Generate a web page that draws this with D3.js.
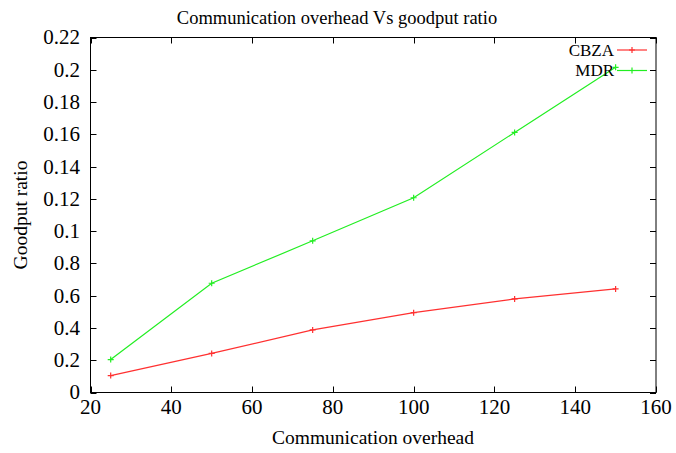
<!DOCTYPE html>
<html>
<head>
<meta charset="utf-8">
<script src="https://cdn.jsdelivr.net/npm/d3@7"></script>
<style>
  html, body { margin: 0; padding: 0; background: #fff; }
  svg { display: block; }
  svg text { font-family: "Liberation Serif", "Times New Roman", "DejaVu Serif", serif; }
</style>
</head>
<body>
<svg id="chart" width="676" height="453"></svg>
<script>
// Communication overhead (x) and goodput ratio per protocol
const overhead = [25, 50, 75, 100, 125, 150];
const cbza = [0.0105, 0.0242, 0.0388, 0.0495, 0.0580, 0.0642];
const mdr  = [0.0204, 0.0677, 0.0940, 0.1207, 0.1612, 0.2015];

const xTicks = [20, 40, 60, 80, 100, 120, 140, 160];
const yTicks = [0, 0.02, 0.04, 0.06, 0.08, 0.10, 0.12, 0.14, 0.16, 0.18, 0.20, 0.22];
const yTickLabels = ["0", "0.2", "0.4", "0.6", "0.8", "0.1", "0.12", "0.14", "0.16", "0.18", "0.2", "0.22"];

const seriesList = [
  { name: "CBZA", values: cbza, color: "#ff3030" },
  { name: "MDR",  values: mdr,  color: "#22ee22" }
];

const FONT = "'Liberation Serif', 'Times New Roman', 'DejaVu Serif', serif";
const svg = d3.select("#chart").attr("font-family", FONT);
const m = { left: 90.5, right: 656, top: 37.5, bottom: 392.5 };

const x = d3.scaleLinear().domain([20, 160]).range([m.left, m.right]);
const y = d3.scaleLinear().domain([0, 0.22]).range([m.bottom, m.top]);

// Title
svg.append("text")
  .attr("x", 337).attr("y", 24)
  .attr("text-anchor", "middle")
  .attr("font-family", FONT)
  .attr("font-size", 18.5)
  .text("Communication overhead Vs goodput ratio");

// Ticks (inside, mirrored on all four sides)
const tickLen = 6;
const g = svg.append("g").attr("stroke", "#000").attr("stroke-width", 1);
xTicks.forEach(t => {
  const px = Math.round(x(t)) + 0.5;
  g.append("line").attr("x1", px).attr("x2", px).attr("y1", m.bottom).attr("y2", m.bottom - tickLen);
  g.append("line").attr("x1", px).attr("x2", px).attr("y1", m.top).attr("y2", m.top + tickLen);
});
yTicks.forEach(t => {
  const py = Math.round(y(t)) + 0.5;
  g.append("line").attr("x1", m.left).attr("x2", m.left + tickLen).attr("y1", py).attr("y2", py);
  g.append("line").attr("x1", m.right).attr("x2", m.right - tickLen).attr("y1", py).attr("y2", py);
});

// Frame
svg.append("rect")
  .attr("x", m.left).attr("y", m.top)
  .attr("width", m.right - m.left).attr("height", m.bottom - m.top)
  .attr("fill", "none").attr("stroke", "#000").attr("stroke-width", 1);

// Tick labels
svg.append("g").selectAll("text").data(xTicks).join("text")
  .attr("x", d => x(d)).attr("y", 414)
  .attr("text-anchor", "middle")
  .attr("font-family", FONT)
  .attr("font-size", 21)
  .text(d => d);

svg.append("g").selectAll("text").data(yTicks).join("text")
  .attr("x", 80).attr("y", d => y(d))
  .attr("dy", "0.33em")
  .attr("text-anchor", "end")
  .attr("font-family", FONT)
  .attr("font-size", 21)
  .text((d, i) => yTickLabels[i]);

// Axis titles
svg.append("text")
  .attr("x", 373).attr("y", 444)
  .attr("text-anchor", "middle")
  .attr("font-family", FONT)
  .attr("font-size", 19.5)
  .text("Communication overhead");

svg.append("text")
  .attr("transform", "translate(27,215) rotate(-90)")
  .attr("text-anchor", "middle")
  .attr("font-family", FONT)
  .attr("font-size", 19.5)
  .text("Goodput ratio");

// Lines with "+" point markers
const line = d3.line().x((d, i) => x(overhead[i])).y(d => y(d));
const marker = (sel, cx, cy, color) => {
  sel.append("path")
    .attr("d", `M${cx - 3},${cy}H${cx + 3}M${cx},${cy - 3}V${cy + 3}`)
    .attr("stroke", color).attr("stroke-width", 1.2).attr("fill", "none");
};

seriesList.forEach(s => {
  svg.append("path")
    .datum(s.values)
    .attr("d", line)
    .attr("fill", "none")
    .attr("stroke", s.color)
    .attr("stroke-width", 1.2);
  const pg = svg.append("g");
  s.values.forEach((v, i) => marker(pg, x(overhead[i]), y(v), s.color));
});

// Legend (top right, inside the frame)
seriesList.forEach((s, i) => {
  const ly = 50 + i * 20.5;
  svg.append("text")
    .attr("x", 614).attr("y", ly)
    .attr("dy", "0.33em")
    .attr("text-anchor", "end")
    .attr("font-family", FONT)
    .attr("font-size", 17)
    .text(s.name);
  svg.append("line")
    .attr("x1", 617).attr("x2", 647).attr("y1", ly).attr("y2", ly)
    .attr("stroke", s.color).attr("stroke-width", 1.2);
  marker(svg, 632, ly, s.color);
});
</script>
</body>
</html>
